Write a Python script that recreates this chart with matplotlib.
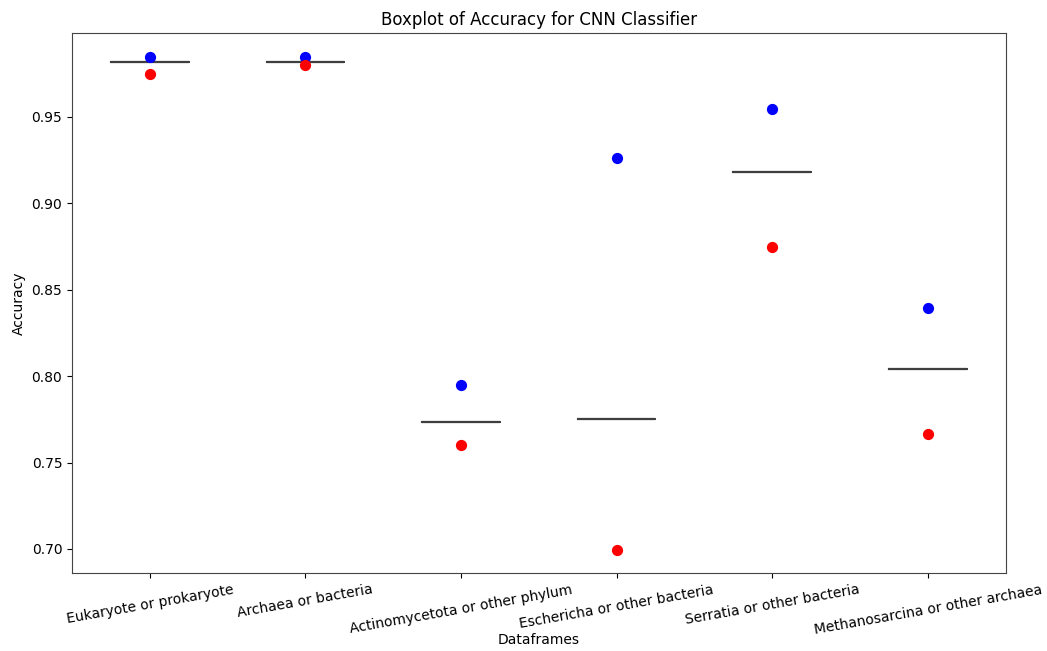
import matplotlib
matplotlib.use("Agg")
import matplotlib.pyplot as plt

# Accuracy per dataframe
categories = ['Eukaryote or prokaryote', 'Archaea or bacteria',
              'Actinomycetota or other phylum', 'Eschericha or other bacteria',
              'Serratia or other bacteria', 'Methanosarcina or other archaea']
blue_acc = [0.9847, 0.9847, 0.7948, 0.9263, 0.9546, 0.8396]
red_acc = [0.9749, 0.9800, 0.7601, 0.6994, 0.8748, 0.7664]
line_acc = [0.9818, 0.9818, 0.7734, 0.7751, 0.9182, 0.8041]

fig = plt.figure(figsize=(10.47, 6.51), dpi=100)
ax = fig.add_axes([0.0688, 0.1198, 0.8916, 0.8295])

pos = list(range(len(categories)))
gray = '#3f3f3f'
ax.boxplot([[v] for v in line_acc], positions=pos, widths=0.5,
           boxprops=dict(color=gray, linewidth=1.5),
           medianprops=dict(color=gray, linewidth=1.5),
           whiskerprops=dict(color=gray), capprops=dict(color=gray, linewidth=0),
           showfliers=False, manage_ticks=False)

ax.scatter(pos, blue_acc, color='blue', s=50, zorder=3)
ax.scatter(pos, red_acc, color='red', s=50, zorder=3)

ax.set_xlim(-0.5, len(categories) - 0.5)
ax.set_ylim(0.6861, 0.9986)
ax.set_xticks(pos)
ax.set_xticklabels(categories, rotation=10, ha='center')
ax.set_yticks([0.70, 0.75, 0.80, 0.85, 0.90, 0.95])
for s in ax.spines.values():
    s.set_color('#444444')
ax.set_title("Boxplot of Accuracy for CNN Classifier")
ax.set_xlabel("Dataframes", labelpad=-3)
ax.set_ylabel("Accuracy")

fig.savefig("out.png", dpi=100)
